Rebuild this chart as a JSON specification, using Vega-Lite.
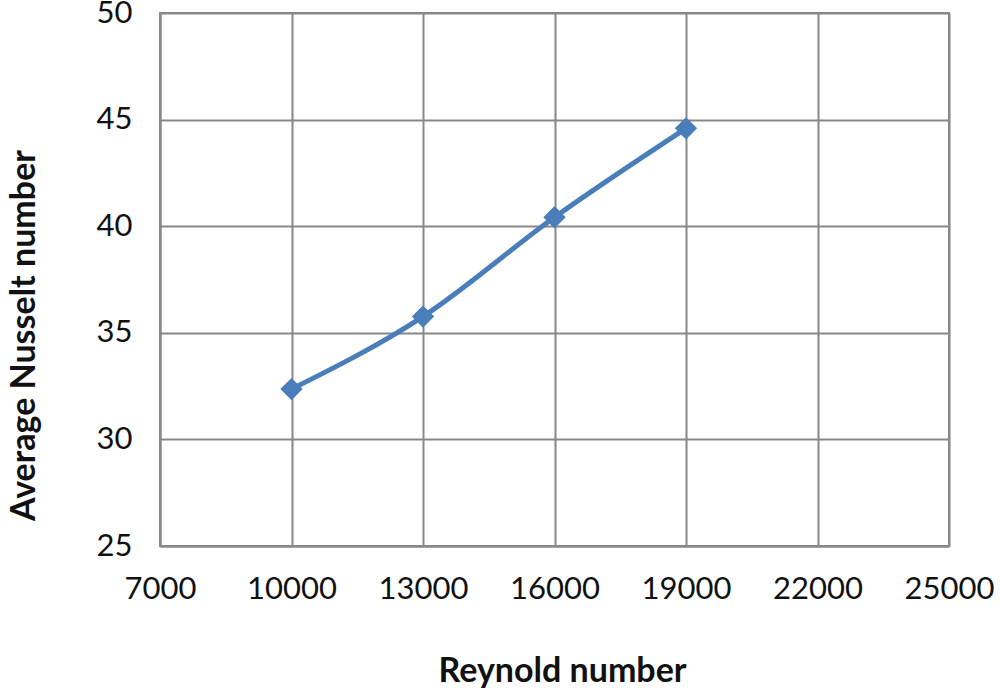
{
  "$schema": "https://vega.github.io/schema/vega-lite/v6.json",
  "autosize": {"type": "none"},
  "width": 789,
  "height": 533,
  "padding": {"left": 160, "top": 13, "right": 51, "bottom": 151},
  "background": "white",
  "config": {"view": {"stroke": "#888888", "strokeWidth": 2}},
  "data": {"values": [
    {"re": 10000, "nu": 32.36},
    {"re": 13000, "nu": 35.76},
    {"re": 16000, "nu": 40.42},
    {"re": 19000, "nu": 44.59}
  ]},
  "encoding": {
    "x": {"field": "re", "type": "quantitative",
      "scale": {"domain": [7000, 25000], "nice": false, "zero": false},
      "axis": {"values": [7000, 10000, 13000, 16000, 19000, 22000, 25000], "title": "Reynold number",
        "format": "d", "grid": true, "gridColor": "#888888", "gridWidth": 2, "domainColor": "#888888", "domainWidth": 2,
        "ticks": false, "labelFlush": false, "labelOverlap": false, "labelBound": false,
        "labelFont": "Lato", "labelFontSize": 31, "labelColor": "#111111", "labelPadding": 28,
        "titleFont": "Lato", "titleFontSize": 34, "titleFontWeight": "bold", "titleColor": "#111111", "titlePadding": 50, "titleX": 402}},
    "y": {"field": "nu", "type": "quantitative",
      "scale": {"domain": [25, 50], "nice": false, "zero": false},
      "axis": {"values": [25, 30, 35, 40, 45, 50], "title": "Average Nusselt number",
        "grid": true, "gridColor": "#888888", "gridWidth": 2, "domainColor": "#888888", "domainWidth": 2,
        "ticks": false, "labelFlush": false, "labelOverlap": false, "labelBound": false,
        "labelFont": "Lato", "labelFontSize": 31, "labelColor": "#111111", "labelPadding": 28,
        "titleFont": "Lato", "titleFontSize": 34, "titleFontWeight": "bold", "titleColor": "#111111", "titlePadding": 55, "titleY": 322}}
  },
  "layer": [
    {"mark": {"type": "line", "interpolate": "monotone", "color": "#4A7EBB", "strokeWidth": 5}},
    {"mark": {"type": "point", "shape": "diamond", "filled": true, "color": "#4A7EBB", "opacity": 1, "size": 500}}
  ]
}
